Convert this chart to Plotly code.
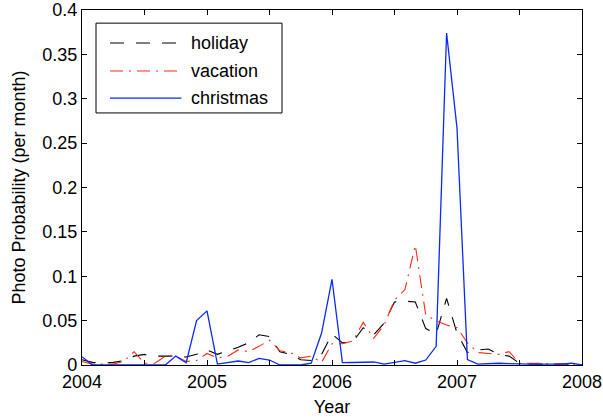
import plotly.graph_objects as go

# Monthly photo probabilities, Jan 2004 .. Jan 2008 (49 months)
month_index = list(range(49))

holiday = [0.006, 0.003, 0.002, 0.003, 0.005, 0.010, 0.012, 0.010, 0.010, 0.010,
           0.009, 0.012, 0.017, 0.012, 0.016, 0.020, 0.025, 0.034, 0.032, 0.015,
           0.012, 0.006, 0.005, 0.012, 0.035, 0.025, 0.026, 0.042, 0.034, 0.047,
           0.071, 0.072, 0.071, 0.041, 0.035, 0.075, 0.036, 0.014, 0.017, 0.018,
           0.012, 0.010, 0.002, 0.001, 0.001, 0.001, 0.001, 0.001, 0.000]

vacation = [0.004, 0.001, 0.001, 0.001, 0.004, 0.015, 0.002, 0.002, 0.010, 0.010,
            0.004, 0.005, 0.013, 0.008, 0.010, 0.017, 0.015, 0.021, 0.028, 0.016,
            0.014, 0.008, 0.010, 0.003, 0.024, 0.024, 0.027, 0.048, 0.030, 0.045,
            0.073, 0.085, 0.135, 0.056, 0.050, 0.045, 0.042, 0.025, 0.014, 0.013,
            0.012, 0.015, 0.002, 0.002, 0.002, 0.001, 0.001, 0.001, 0.000]

christmas = [0.0094, 0.0, 0.0, 0.0, 0.0, 0.0, 0.0, 0.0, 0.0, 0.010,
             0.0026, 0.050, 0.061, 0.001, 0.003, 0.0045, 0.0026, 0.0075, 0.0056, 0.0,
             0.0, 0.0, 0.002, 0.036, 0.0966, 0.0026, 0.0028, 0.003, 0.0034, 0.001,
             0.003, 0.005, 0.002, 0.0056, 0.021, 0.374, 0.267, 0.006, 0.001, 0.0015,
             0.002, 0.0015, 0.001, 0.001, 0.001, 0.001, 0.001, 0.002, 0.0]

series_names = ["holiday", "vacation", "christmas"]
x_ticks = [2004, 2004.5, 2005, 2005.5, 2006, 2006.5, 2007, 2007.5, 2008]
x_tick_text = ["2004", "", "2005", "", "2006", "", "2007", "", "2008"]
y_ticks = [0, 0.05, 0.1, 0.15, 0.2, 0.25, 0.3, 0.35, 0.4]

years = [2004 + m / 12 for m in month_index]

FONT = "Liberation Sans, Arial, Helvetica, sans-serif"
styles = {
    "holiday": dict(color="black", width=1.1, dash="14px,12px"),
    "vacation": dict(color="#ff2a10", width=1.1, dash="13px,6px,2px,6px"),
    "christmas": dict(color="#0a2aff", width=1.3, dash="solid"),
}
values = {"holiday": holiday, "vacation": vacation, "christmas": christmas}

fig = go.Figure()
for name in series_names:
    fig.add_trace(go.Scatter(x=years, y=values[name], mode="lines", name=name,
                             line=styles[name], showlegend=False))

# Boxed legend drawn in paper coordinates
fig.add_shape(type="rect", xref="paper", yref="paper", x0=0.028, x1=0.4,
              y0=0.71, y1=0.963, line=dict(color="black", width=1),
              fillcolor="white", layer="above")
legend_y = [0.907, 0.828, 0.752]
for name, ly in zip(series_names, legend_y):
    fig.add_shape(type="line", xref="paper", yref="paper", x0=0.056, x1=0.199,
                  y0=ly, y1=ly, line=styles[name], layer="above")
    fig.add_annotation(x=0.213, y=ly, xref="paper", yref="paper", text=name,
                       showarrow=False, xanchor="left", yanchor="middle",
                       font=dict(family=FONT, size=18, color="black"))

axis_common = dict(showline=True, linecolor="black", linewidth=1.2, mirror="ticks",
                   ticks="inside", ticklen=5, tickcolor="black", tickwidth=1,
                   showgrid=False, zeroline=False, automargin=False,
                   tickfont=dict(family=FONT, size=18, color="black"))

fig.update_layout(
    width=603, height=419,
    margin=dict(l=82, r=21, t=10, b=54),
    paper_bgcolor="white", plot_bgcolor="white",
    xaxis=dict(range=[2004, 2008], tickvals=x_ticks, ticktext=x_tick_text,
               title=dict(text="Year", font=dict(family=FONT, size=18, color="black"),
                          standoff=9),
               **axis_common),
    yaxis=dict(range=[0, 0.4], tickvals=y_ticks,
               title=dict(text="Photo Probability (per month)",
                          font=dict(family=FONT, size=18, color="black"), standoff=11),
               **axis_common),
)

fig.write_html("out.html")
